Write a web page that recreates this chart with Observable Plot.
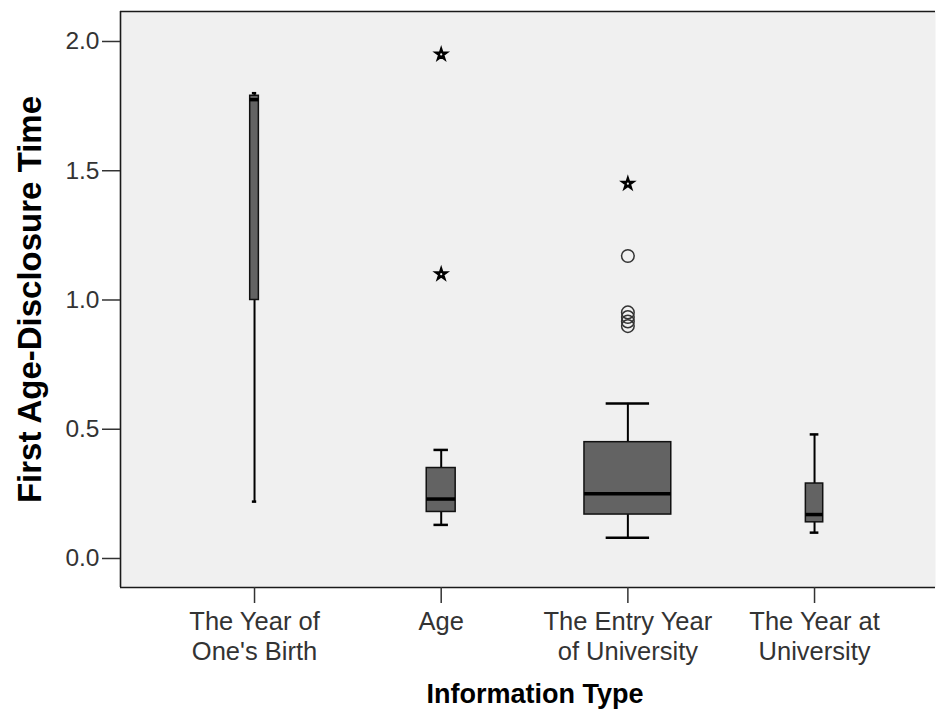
<!DOCTYPE html>
<html>
<head>
<meta charset="utf-8">
<script src="https://cdn.jsdelivr.net/npm/d3@7"></script>
<script src="https://cdn.jsdelivr.net/npm/@observablehq/plot@0.6"></script>
<style>
  html, body { margin: 0; padding: 0; background: #ffffff; }
  #chart svg { display: block; }
</style>
</head>
<body>
<div id="chart"></div>
<script>
// ---- Data ----
const categories = ["The Year of\nOne's Birth", "Age", "The Entry Year\nof University", "The Year at\nUniversity"];
const counts      = [3, 10, 30, 6];            // relative group sizes (box widths)
const whiskerLow  = [0.22, 0.13, 0.08, 0.10];
const q1          = [1.00, 0.18, 0.17, 0.14];
const median      = [1.775, 0.23, 0.25, 0.17];
const q3          = [1.79, 0.35, 0.45, 0.29];
const whiskerHigh = [1.80, 0.42, 0.60, 0.48];
// extreme values (stars) and outliers (circles): category index, value
const extremeCat  = [1, 1, 2];
const extremeVal  = [1.95, 1.10, 1.45];
const outlierCat  = [2, 2, 2, 2, 2];
const outlierVal  = [1.17, 0.952, 0.934, 0.917, 0.899];
const yTicks      = [0, 0.5, 1.0, 1.5, 2.0];
const xTitle = "Information Type";
const yTitle = "First Age-Disclosure Time";

// ---- Tables built from the arrays ----
const boxes = categories.map((c, i) => ({
  i, n: counts[i], lo: whiskerLow[i], q1: q1[i], med: median[i], q3: q3[i], hi: whiskerHigh[i]
}));
const extremes = extremeCat.map((c, k) => ({i: c, v: extremeVal[k]}));
const outliers = outlierCat.map((c, k) => ({i: c, v: outlierVal[k]}));

const unit = 0.0155;                       // box width per unit of group size (in category steps)
const bx1 = d => d.i - d.n * unit / 2;
const bx2 = d => d.i + d.n * unit / 2;
const cx1 = d => d.i - d.n * unit / 4;
const cx2 = d => d.i + d.n * unit / 4;

const xDomain = [-0.718, 3.648];
const yDomain = [-0.1122, 2.116];
const font = "'Liberation Sans', Arial, sans-serif";

const chart = Plot.plot({
  width: 937,
  height: 718,
  marginTop: 11,
  marginBottom: 131,
  marginLeft: 120,
  marginRight: 2,
  style: {fontFamily: font, fontSize: "25px", color: "#222", background: "#ffffff"},
  x: {type: "linear", domain: xDomain, axis: null},
  y: {type: "linear", domain: yDomain, axis: null},
  marks: [
    Plot.frame({fill: "#f0f0f0", stroke: null}),
    Plot.ruleY([yDomain[0]], {stroke: "#1a1a1a", strokeWidth: 1.6}),
    Plot.ruleY([yDomain[1]], {stroke: "#1a1a1a", strokeWidth: 1.6}),
    Plot.ruleX([xDomain[0]], {stroke: "#1a1a1a", strokeWidth: 1.6}),
    // whiskers
    Plot.ruleX(boxes, {x: "i", y1: "q3", y2: "hi", stroke: "#000", strokeWidth: 2}),
    Plot.ruleX(boxes, {x: "i", y1: "lo", y2: "q1", stroke: "#000", strokeWidth: 2}),
    // whisker caps
    Plot.ruleY(boxes, {y: "hi", x1: cx1, x2: cx2, stroke: "#000", strokeWidth: 2.5}),
    Plot.ruleY(boxes, {y: "lo", x1: cx1, x2: cx2, stroke: "#000", strokeWidth: 2.5}),
    // boxes
    Plot.rect(boxes, {x1: bx1, x2: bx2, y1: "q1", y2: "q3", fill: "#636363", stroke: "#111", strokeWidth: 1.5}),
    // medians
    Plot.ruleY(boxes, {y: "med", x1: bx1, x2: bx2, stroke: "#000", strokeWidth: 3.5}),
    // outliers
    Plot.dot(outliers, {x: "i", y: "v", r: 6.3, fill: "none", stroke: "#333", strokeWidth: 1.5}),
    // extremes
    Plot.dot(extremes, {x: "i", y: "v", symbol: "star", r: 4.2, fill: "#000", stroke: "#000", strokeWidth: 1.4}),
    Plot.dot(extremes, {x: "i", y: "v", r: 1.1, fill: "#f0f0f0", stroke: null}),
    // axes
    Plot.axisY(yTicks, {
      tickFormat: d3.format(".1f"), tickSize: 18, tickPadding: 3,
      stroke: "#333", strokeWidth: 1.5, fill: "#333", fontSize: 24.5, label: null
    }),
    Plot.axisX([0, 1, 2, 3], {
      tickFormat: i => categories[i], tickSize: 16, tickPadding: 5,
      stroke: "#333", strokeWidth: 1.5, fill: "#333", fontSize: 25.5, lineHeight: 1.17, label: null
    }),
    // axis titles
    Plot.text([yTitle], {frameAnchor: "left", rotate: -90, dx: -90, fontSize: 33, fontWeight: "bold", fill: "#000", textAnchor: "middle", lineAnchor: "middle"}),
    Plot.text([xTitle], {frameAnchor: "bottom", dx: 7, dy: 107, fontSize: 27, fontWeight: "bold", fill: "#000", textAnchor: "middle", lineAnchor: "middle"})
  ]
});
document.getElementById("chart").appendChild(chart);
</script>
</body>
</html>
